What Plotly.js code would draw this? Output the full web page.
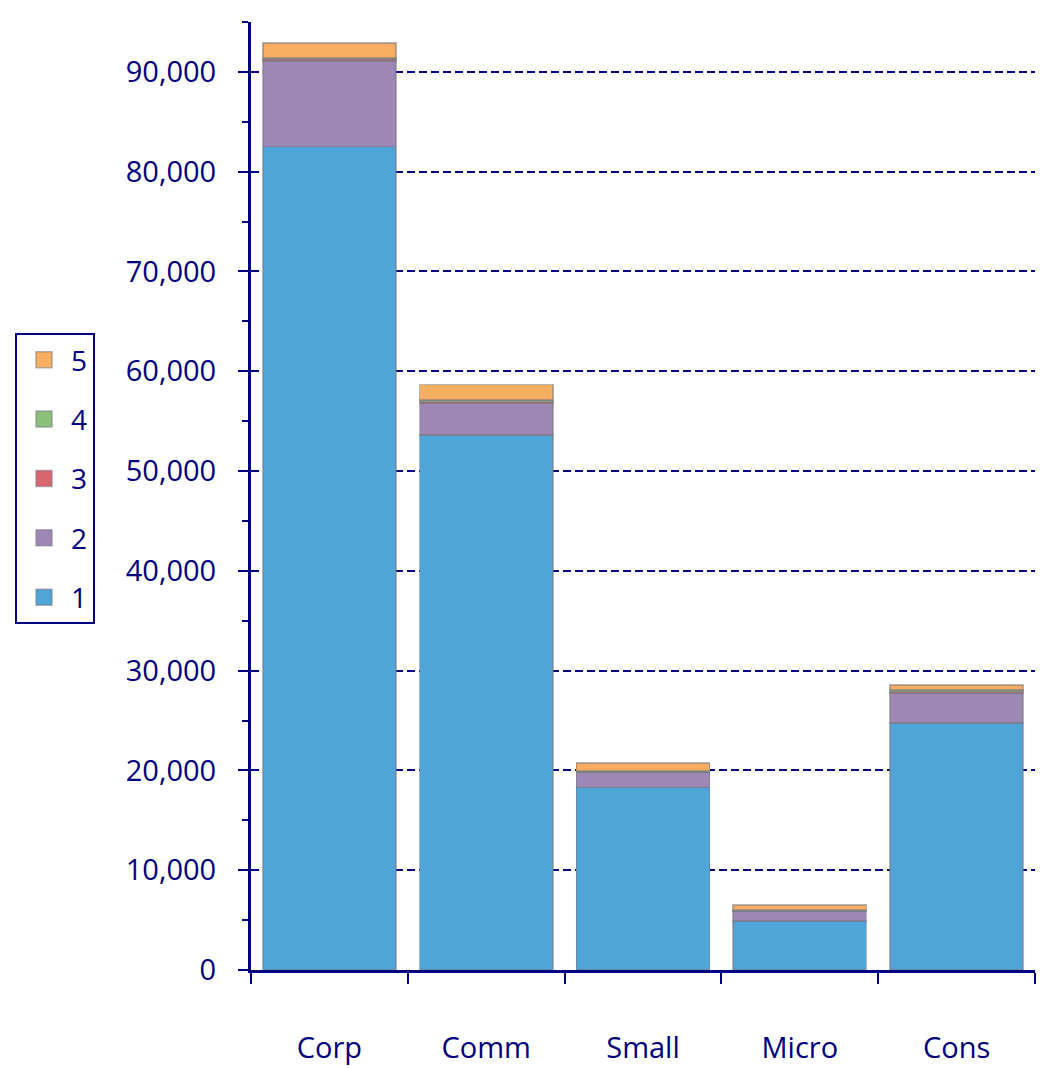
<!DOCTYPE html>
<html>
<head>
<meta charset="utf-8">
<script src="https://cdn.plot.ly/plotly-3.0.1.min.js"></script>
<style>html,body{margin:0;padding:0;background:#fff;}#chart{width:1042px;height:1068px;}</style>
</head>
<body>
<div id="chart"></div>
<script>
const categories = ["Corp", "Comm", "Small", "Micro", "Cons"];
const seriesNames = ["1", "2", "3", "4", "5"];
const series1 = [82500, 53600, 18300, 4900, 24750];
const series2 = [8600, 3150, 1500, 1000, 3000];
const series3 = [150, 150, 80, 50, 150];
const series4 = [150, 200, 80, 50, 150];
const series5 = [1500, 1550, 780, 500, 500];
const seriesValues = [series1, series2, series3, series4, series5];
const seriesColors = ["#4FA5D8", "#9E88B6", "#D9656F", "#8DC07B", "#F8AE60"];

const navy = "#000080";
const fontFam = "'Open Sans', Lato, sans-serif";
const edge = "rgba(120,120,130,0.55)";

const barTraces = seriesValues.map((vals, i) => ({
  type: "bar",
  name: seriesNames[i],
  x: categories,
  y: vals,
  showlegend: false,
  marker: {color: seriesColors[i], line: {color: edge, width: 1.5}},
  hoverinfo: "none"
}));

// legend entries (larger square swatches), listed top-down from series 5 to 1
const legendOrder = [4, 3, 2, 1, 0];
const legendTraces = legendOrder.map((i) => ({
  type: "scatter",
  mode: "markers",
  name: seriesNames[i],
  x: [null],
  y: [null],
  legendgroup: "g" + i,
  marker: {symbol: "square", size: 16, color: seriesColors[i], line: {color: edge, width: 1.5}},
  hoverinfo: "none"
}));

const yCommon = {
  range: [0, 95000],
  showline: true,
  linecolor: navy,
  linewidth: 3,
  tickcolor: navy,
  tickwidth: 2,
  dtick: 10000,
  tick0: 0,
  ticklen: 10,
  zeroline: false
};

const layout = {
  width: 1042,
  height: 1068,
  margin: {l: 251, r: 7, t: 22, b: 98},
  paper_bgcolor: "#ffffff",
  plot_bgcolor: "#ffffff",
  barmode: "stack",
  bargap: 0.15,
  showlegend: true,
  font: {family: fontFam, color: navy, size: 28},
  xaxis: {
    type: "category",
    showline: true,
    linecolor: navy,
    linewidth: 3,
    ticks: "outside",
    tickson: "boundaries",
    ticklen: 11,
    tickwidth: 2,
    tickcolor: navy,
    showgrid: false,
    ticklabelstandoff: 50,
    tickfont: {family: fontFam, color: navy, size: 29}
  },
  yaxis: Object.assign({}, yCommon, {
    ticks: "outside",
    tickformat: ",d",
    showgrid: true,
    gridcolor: navy,
    gridwidth: 2,
    griddash: "8px,4px",
    ticklabelstandoff: 16,
    tickfont: {family: fontFam, color: navy, size: 29},
    minor: {dtick: 5000, ticks: "outside", ticklen: 6, tickwidth: 2, tickcolor: navy, showgrid: false}
  }),
  yaxis2: Object.assign({}, yCommon, {
    overlaying: "y",
    matches: "y",
    side: "left",
    ticks: "inside",
    ticklen: 11,
    showticklabels: false,
    showgrid: false,
    minor: {dtick: 5000, ticks: "inside", ticklen: 6, tickwidth: 2, tickcolor: navy, showgrid: false}
  }),
  legend: {
    x: -0.301,
    xanchor: "left",
    y: 0.672,
    yanchor: "top",
    traceorder: "grouped",
    tracegroupgap: 20,
    bordercolor: navy,
    borderwidth: 2,
    bgcolor: "#ffffff",
    font: {family: fontFam, color: navy, size: 28},
    itemwidth: 44
  }
};

Plotly.newPlot("chart", barTraces.concat(legendTraces), layout, {displayModeBar: false, staticPlot: true});
</script>
</body>
</html>
